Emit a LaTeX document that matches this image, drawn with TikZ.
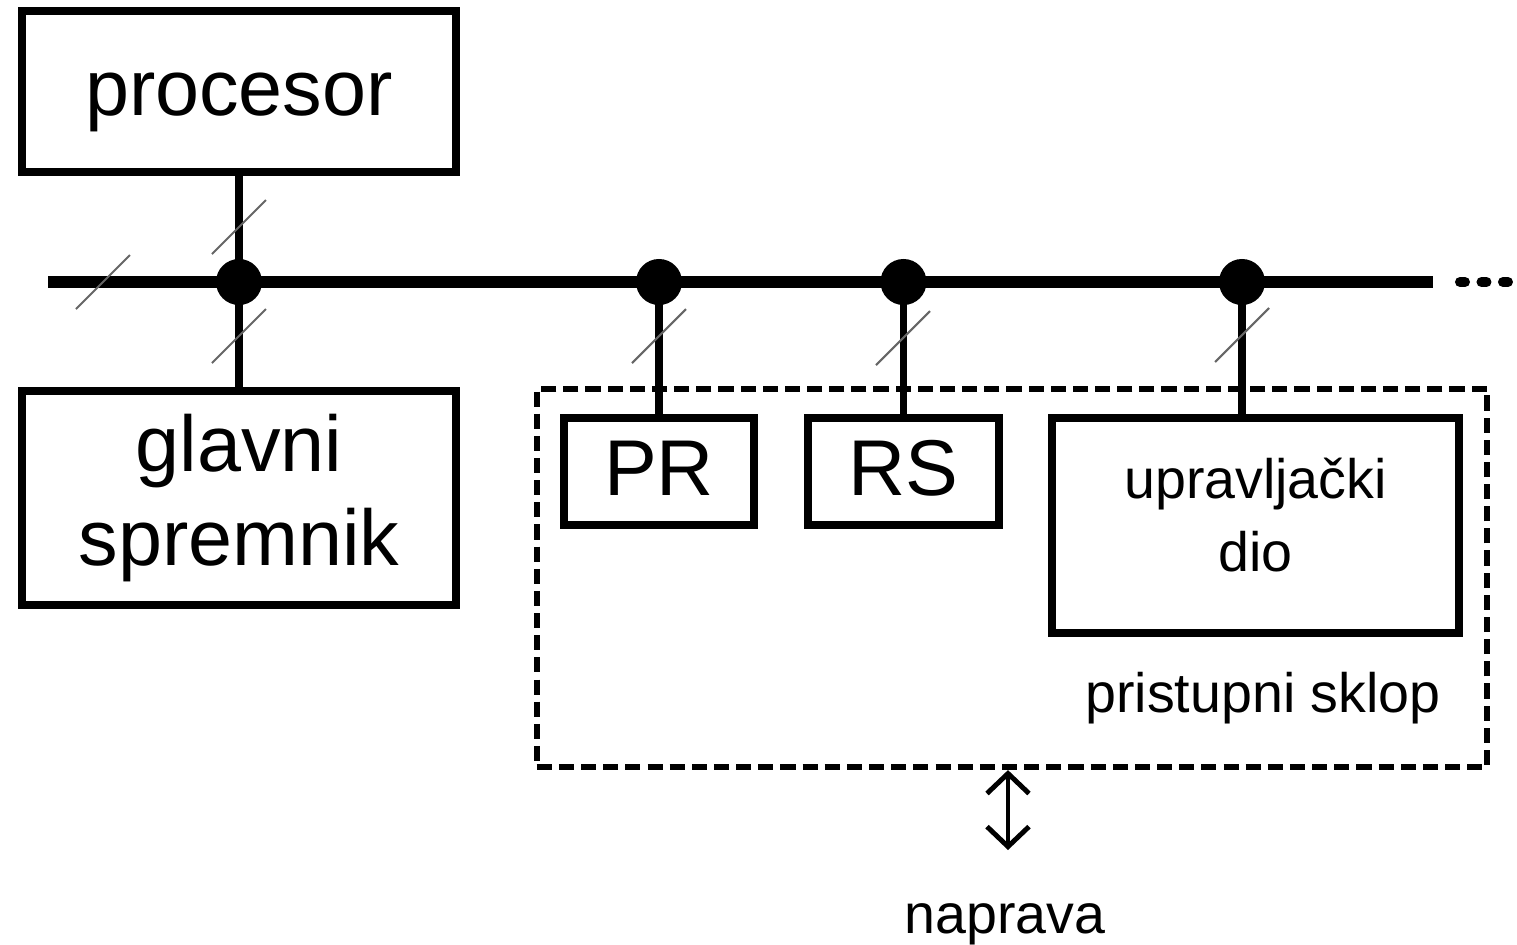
\documentclass[tikz,border=0pt]{standalone}
\usepackage{fontspec}
\setmainfont{Liberation Sans}
\usetikzlibrary{arrows.meta,positioning}
\tikzstyle{blok} = [draw, line width=2.3pt, rectangle, inner sep=0pt, font=\fontsize{22.5}{26.5}\selectfont, align=center]
\tikzstyle{maliblok} = [blok, font=\fontsize{15.8}{20.8}\selectfont]
\tikzstyle{jednored} = [text height=18pt, text depth=4.5pt]
\tikzstyle{okvir} = [draw, line width=1.7pt, dash pattern=on 4.3pt off 2pt, rectangle, inner sep=0pt]
\tikzstyle{tocka} = [circle, fill, inner sep=0pt, minimum size=0.46cm]
\tikzstyle{sabirnica} = [line width=3.6pt]
\tikzstyle{veza} = [line width=2.2pt]
\tikzstyle{crtica} = [line width=0.6pt, black!60]
\tikzstyle{natpis} = [font=\fontsize{15.8}{20.8}\selectfont, anchor=base]
\tikzstyle{vrh} = [line width=1.4pt, >={Straight Barb[length=0.2cm, width=0.42cm]}, <->]

\begin{document}
\begin{tikzpicture}[x=0.01cm, y=-0.01cm]
\useasboundingbox (0,0) rectangle (1517,945);
% sabirnica
\coordinate (busL) at (48,282);
\coordinate (busR) at (1433,282);
\coordinate (dalje1) at (1460,282);
\coordinate (dalje2) at (1508,282);

\node[blok, jednored, minimum width=4.33cm, minimum height=1.61cm] (proc) at (239,91.5) {procesor};
\node[blok, minimum width=4.33cm, minimum height=2.14cm] (mem) at (239,498) {glavni\\spremnik};
\node[okvir, minimum width=9.5cm, minimum height=3.78cm] (sklop) at (1012,578) {};
\node[blok, jednored, minimum width=1.9cm, minimum height=1.07cm] (pr) at (659,471.5) {PR};
\node[blok, jednored, minimum width=1.91cm, minimum height=1.07cm] (rs) at (903.5,471.5) {RS};
\node[maliblok, minimum width=4.07cm, minimum height=2.15cm] (upr) at (1255.5,525.5) {upravljački\\dio\strut};
\node[natpis] (sklopnaziv) at (1263,712) {pristupni sklop};
\node[natpis] (naprava) at (1005,933) {naprava};

% tocke na sabirnici
\node[tocka] (t1) at (proc.south |- busL) {};
\node[tocka] (t2) at (pr.north |- busL) {};
\node[tocka] (t3) at (rs.north |- busL) {};
\node[tocka] (t4) at (1242,282) {};

\draw[sabirnica] (busL) -- (busR);
\draw[line width=2.85pt, line cap=round, dash pattern=on 1.42pt off 4.69pt] (dalje1) -- (dalje2);
\draw[veza] (proc) -- (t1.center) -- (mem);
\draw[veza] (t2.center) -- (pr);
\draw[veza] (t3.center) -- (rs);
\draw[veza] (t4.center) -- (t4 |- upr.north);

% oznake sirine sabirnice
\foreach \x/\y in {103/282, 239/227, 239/336, 659/336, 903/338, 1242/335}
  \draw[crtica] (\x,\y) ++(-27,27) -- ++(54,-54);

\coordinate (strelica) at (1008,850);
\draw[vrh] (strelica |- sklop.south) -- (strelica);
\end{tikzpicture}
\end{document}
